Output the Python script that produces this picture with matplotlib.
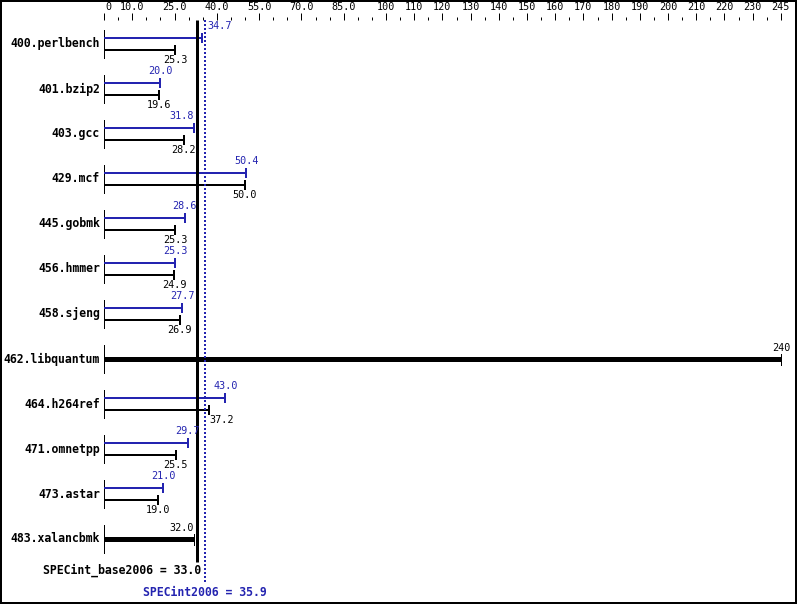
import matplotlib
matplotlib.use('Agg')
import matplotlib.pyplot as plt
import matplotlib.transforms as mtransforms
from matplotlib.patches import Rectangle

# ---------------- data ----------------
benchmarks = ["400.perlbench", "401.bzip2", "403.gcc", "429.mcf", "445.gobmk",
              "456.hmmer", "458.sjeng", "462.libquantum", "464.h264ref",
              "471.omnetpp", "473.astar", "483.xalancbmk"]
base_scores = [25.3, 19.6, 28.2, 50.0, 25.3, 24.9, 26.9, 240, 37.2, 25.5, 19.0, 32.0]
peak_scores = [34.7, 20.0, 31.8, 50.4, 28.6, 25.3, 27.7, None, 43.0, 29.7, 21.0, None]
spec_base = 33.0
spec_peak = 35.9
base_title = "SPECint_base2006"
peak_title = "SPECint2006"
major_ticks = [0, 10, 25, 40, 55, 70, 85, 100, 110, 120, 130, 140, 150, 160,
               170, 180, 190, 200, 210, 220, 230, 240, 245]
tick_labels = ["0", "10.0", "25.0", "40.0", "55.0", "70.0", "85.0", "100", "110",
               "120", "130", "140", "150", "160", "170", "180", "190", "200",
               "210", "220", "230", "", "245"]
x_max = 245

# ---------------- style ----------------
BLUE = '#2424b0'
MONO = 'DejaVu Sans Mono'
W, H = 799, 606
PT = 72 / 100.0  # points per pixel

def fmt(v):
    return f"{v:.0f}" if v >= 100 else f"{v:.1f}"

fig = plt.figure(figsize=(W / 100, H / 100), dpi=100)
fig.patch.set_facecolor('white')
AX_TOP = 20
ax = fig.add_axes([104 / W, 0, 691 / W, (H - AX_TOP) / H])
ROW0, ROWH = 44, 45

def row_y(p):
    return (p - ROW0) / ROWH

px = 1.0 / ROWH
ax.set_xlim(0, x_max)
ax.set_ylim(row_y(H), row_y(AX_TOP))
for s in ax.spines.values():
    s.set_visible(False)
ax.set_yticks([])
ax.xaxis.tick_top()
ax.set_xticks(major_ticks)
ax.set_xticklabels(tick_labels, fontfamily=MONO, fontsize=7.3)
minor = [v for v in range(5, x_max, 5) if v not in major_ticks]
ax.set_xticks(minor, minor=True)
ax.tick_params(axis='x', which='major', length=7 * PT, width=1 * PT, pad=1, direction='out')
ax.tick_params(axis='x', which='minor', length=3 * PT, width=1 * PT, direction='out')
labels_objs = ax.get_xticklabels()
first = labels_objs[0]
first.set_transform(first.get_transform() +
                    mtransforms.ScaledTranslation(4 / 100, 0, fig.dpi_scale_trans))
last = labels_objs[-1]
last.set_horizontalalignment('right')
last.set_transform(last.get_transform() +
                   mtransforms.ScaledTranslation(-5 / 100, 0, fig.dpi_scale_trans))

HALF = 4.3  # half label width in data units

def label(v, y, dy, color):
    if v + HALF > 35 and v - HALF < 36.5:
        if v < spec_base:
            ha, x = 'right', v
        else:
            ha, x = 'left', max(v, 36.5)
    else:
        ha, x = 'center', v
    ax.annotate(fmt(v), xy=(x, y), xytext=(0, dy), textcoords='offset pixels',
                ha=ha, va='center', fontfamily=MONO, fontsize=7.3, color=color,
                annotation_clip=False, zorder=7)

thin = 2 * PT
for i, (name, b, p) in enumerate(zip(benchmarks, base_scores, peak_scores)):
    ax.plot([0, 0], [i - 14 * px, i + 14 * px], color='black', lw=1 * PT, clip_on=False)
    ax.annotate(name, xy=(0, i), xytext=(-4, 0), textcoords='offset pixels',
                ha='right', va='center', fontfamily=MONO, fontweight='bold',
                fontsize=8.3, color='black', annotation_clip=False)
    if p is None:
        ax.plot([0, b], [i, i], color='black', lw=5 * PT, solid_capstyle='butt', clip_on=False)
        ax.plot([b, b], [i - 5 * px, i + 6 * px], color='black', lw=1 * PT, clip_on=False)
        label(b, i, 11, 'black')
    else:
        yp = i - 6 * px
        yb = i + 6 * px
        ax.plot([0, p], [yp, yp], color=BLUE, lw=thin, solid_capstyle='butt', clip_on=False)
        ax.plot([p, p], [yp - 4 * px, yp + 4 * px], color=BLUE, lw=thin, clip_on=False)
        ax.plot([0, b], [yb, yb], color='black', lw=thin, solid_capstyle='butt', clip_on=False)
        ax.plot([b, b], [yb - 4 * px, yb + 4 * px], color='black', lw=thin, clip_on=False)
        label(p, yp, 12, BLUE)
        label(b, yb, -10, 'black')

# summary lines
ax.plot([spec_base, spec_base], [row_y(20), row_y(562)], color='black', lw=3 * PT,
        solid_capstyle='butt', zorder=5, clip_on=False)
ax.plot([spec_peak, spec_peak], [row_y(20), row_y(584)], color=BLUE, lw=2 * PT,
        linestyle=(0, (1, 1)), zorder=5, clip_on=False)
ax.annotate(f"{base_title} = {spec_base:.1f}", xy=(spec_base, row_y(570)), xytext=(4, 0),
            textcoords='offset pixels', ha='right', va='center', fontfamily=MONO,
            fontweight='bold', fontsize=8.3, color='black', annotation_clip=False)
ax.annotate(f"{peak_title} = {spec_peak:.1f}", xy=(spec_peak, row_y(592)), xytext=(0, 0),
            textcoords='offset pixels', ha='center', va='center', fontfamily=MONO,
            fontweight='bold', fontsize=8.3, color=BLUE, annotation_clip=False)

# outer frame
fig.add_artist(Rectangle((1 / W, 3 / H), 795 / W, (H - 4) / H, transform=fig.transFigure,
                         fill=False, ec='black', lw=2 * PT))

fig.savefig('out.png', dpi=100, facecolor='white')
